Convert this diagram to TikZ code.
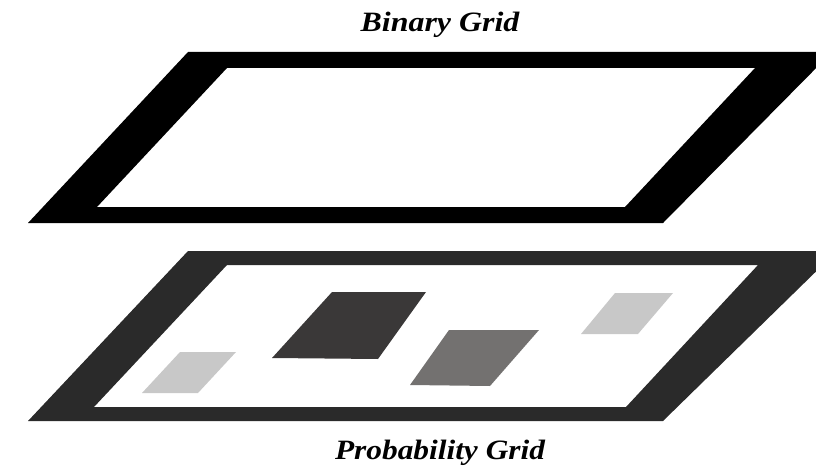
\documentclass[tikz,border=0pt]{standalone}
\usepackage{fontspec}
\setmainfont{Liberation Serif}
\definecolor{frameA}{HTML}{000000}
\definecolor{frameB}{HTML}{2A2A2A}
\definecolor{cellDark}{HTML}{3A3838}
\definecolor{cellMid}{HTML}{737170}
\definecolor{cellLight}{HTML}{C8C8C8}
\begin{document}
\begin{tikzpicture}[x=1pt,y=-1pt,
  gridlabel/.style={font=\fontsize{28}{32}\selectfont\bfseries\itshape, inner sep=0pt, anchor=base},
  cell/.style={draw=none}]
\useasboundingbox (0,0) rectangle (816,468);
\clip (0,0) rectangle (816,468);
% Binary grid (top)
\fill[frameA, even odd rule] (188,52) -- (832,52) -- (663,223) -- (28,223) -- cycle
  (227,68) -- (755,68) -- (625,207) -- (97,207) -- cycle;
% Probability grid (bottom)
\fill[frameB, even odd rule] (188,251) -- (837,251) -- (663,421) -- (28,421) -- cycle
  (227,265) -- (758,265) -- (626,407) -- (94,407) -- cycle;
% cells
\fill[cellDark] (332,292) -- (426,292) -- (378,359) -- (272,358) -- cycle;
\fill[cellMid] (449,330) -- (539,330) -- (490,386) -- (410,385) -- cycle;
\fill[cellLight] (180,352) -- (236,352) -- (198,393) -- (142,393) -- cycle;
\fill[cellLight] (615,293) -- (673,293) -- (638,334) -- (581,334) -- cycle;
% labels
\node[gridlabel] (binary) at (440,31.5) {\scalebox{1.14}[1]{Binary Grid}};
\node[gridlabel] (prob) at (440,459.5) {\scalebox{1.12}[1]{Probability Grid}};
\end{tikzpicture}
\end{document}
